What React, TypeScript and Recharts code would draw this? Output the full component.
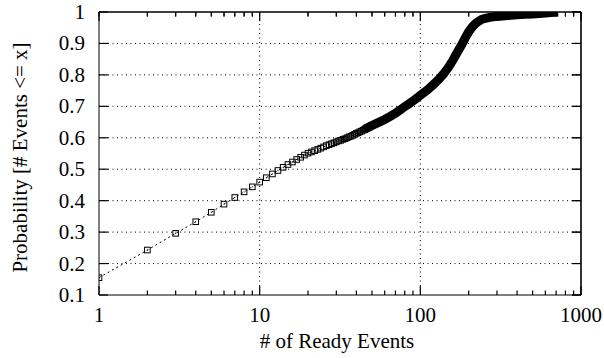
import React from "react";
import { LineChart, Line, XAxis, YAxis, ReferenceLine } from "recharts";

// individual markers (every integer up to 50)
const readyEvents = [
  1, 2, 3, 4, 5, 6, 7, 8, 9, 10, 11, 12, 13, 14, 15, 16, 17, 18, 19, 20, 21, 22, 23, 24, 25,
  26, 27, 28, 29, 30, 31, 32, 33, 34, 35, 36, 37, 38, 39, 40, 41, 42, 43, 44, 45, 46, 47, 48, 49, 50,
];
const probability = [
  0.155, 0.243, 0.296, 0.333, 0.363, 0.389, 0.41, 0.428, 0.444, 0.459, 0.473, 0.485, 0.496, 0.506, 0.515,
  0.523, 0.531, 0.538, 0.545, 0.551, 0.555, 0.559, 0.563, 0.567, 0.571, 0.575, 0.578, 0.581, 0.584, 0.587,
  0.59, 0.592, 0.595, 0.597, 0.6, 0.603, 0.605, 0.608, 0.611, 0.614, 0.616, 0.619, 0.621, 0.624, 0.627,
  0.629, 0.632, 0.634, 0.637, 0.639,
];

// dense part where the markers merge into one thick band
const bandEvents = [
  45, 50, 55, 60, 65, 70, 75, 80, 85, 90, 95, 100, 110, 120, 130, 140, 150, 160, 170, 180, 190, 200,
  210, 220, 230, 240, 250, 270, 300, 350, 400, 450, 500, 550, 600, 650, 720,
];
const bandProbability = [
  0.627, 0.639, 0.649, 0.658, 0.668, 0.678, 0.689, 0.699, 0.708, 0.717, 0.726, 0.735, 0.751, 0.768, 0.786,
  0.804, 0.825, 0.848, 0.872, 0.894, 0.917, 0.937, 0.952, 0.963, 0.97, 0.976, 0.979, 0.983, 0.986, 0.989,
  0.991, 0.993, 0.994, 0.995, 0.997, 0.998, 1.0,
];

const majorXTicks = [1, 10, 100, 1000];
const minorXTicks = [2, 3, 4, 5, 6, 7, 8, 9, 20, 30, 40, 50, 60, 70, 80, 90, 200, 300, 400, 500, 600, 700, 800, 900];
const yTicks = [0.1, 0.2, 0.3, 0.4, 0.5, 0.6, 0.7, 0.8, 0.9, 1];
const xGrid = [10, 100];
const yGrid = [0.2, 0.3, 0.4, 0.5, 0.6, 0.7, 0.8, 0.9];

const pointData = readyEvents.map((x, i) => ({ x, p: probability[i] }));
const bandData = bandEvents.map((x, i) => ({ x, p: bandProbability[i] }));
const allXTicks = [...majorXTicks, ...minorXTicks].sort((a, b) => a - b);

// frame axes (top / right) sit just outside the plot, ticks point inward
const FRAME = 8;
const MARGIN = { top: 12 - FRAME, right: 23 - FRAME, bottom: 0, left: 0 };
const PLOT_TOP = 12;
const PLOT_RIGHT = 604 - 23;
const FONT = "Liberation Serif";
const TICK_FONT = 21;
const MAJOR = 9;
const MINOR = 4.5;

function NoLabel() {
  return <g />;
}

// labels plus inward ticks on the bottom edge (and long ticks on top)
function BottomTick(props: any) {
  const { x, y, payload } = props;
  const v = payload.value;
  const major = majorXTicks.includes(v);
  const len = major ? MAJOR : MINOR;
  const axisY = y - 12;
  return (
    <g>
      <line x1={x} x2={x} y1={axisY} y2={axisY - len} stroke="#000" strokeWidth={1.2} />
      <line x1={x} x2={x} y1={PLOT_TOP} y2={PLOT_TOP + len} stroke="#000" strokeWidth={1.2} />
      {major && (
        <text x={x} y={y + 15} textAnchor="middle" fontSize={TICK_FONT} fontFamily={FONT} fill="#000">
          {v}
        </text>
      )}
    </g>
  );
}

// labels plus inward ticks on the left edge (and the right edge)
function LeftTick(props: any) {
  const { x, y, payload } = props;
  const axisX = x + 14;
  return (
    <g>
      <line x1={axisX} x2={axisX + MAJOR} y1={y} y2={y} stroke="#000" strokeWidth={1.2} />
      <line x1={PLOT_RIGHT} x2={PLOT_RIGHT - MAJOR} y1={y} y2={y} stroke="#000" strokeWidth={1.2} />
      <text x={x} y={y} dy={7} textAnchor="end" fontSize={TICK_FONT} fontFamily={FONT} fill="#000">
        {payload.value}
      </text>
    </g>
  );
}

function Square(props: any) {
  const { cx, cy } = props;
  if (cx == null || cy == null) return null;
  return (
    <g>
      <rect x={cx - 2.8} y={cy - 2.8} width={5.6} height={5.6} fill="none" stroke="#000" strokeWidth={1} />
      <rect x={cx - 0.5} y={cy - 0.5} width={1} height={1} fill="#000" />
    </g>
  );
}

function XTitle(props: any) {
  const vb = props.viewBox || { x: 99, y: 295, width: 482, height: 63 };
  return (
    <text x={vb.x + vb.width / 2 - 3} y={vb.y + 53} textAnchor="middle" fontSize={21} fontFamily={FONT} fill="#000">
      # of Ready Events
    </text>
  );
}

function YTitle(props: any) {
  const vb = props.viewBox || { x: 0, y: 12, width: 99, height: 283 };
  const cx = vb.x + 20;
  const cy = vb.y + vb.height / 2 + 4;
  return (
    <text x={cx} y={cy} dy={7} transform={`rotate(-90, ${cx}, ${cy})`} textAnchor="middle" fontSize={21} fontFamily={FONT} fill="#000">
      Probability [# Events &lt;= x]
    </text>
  );
}

export default function App() {
  return (
    <div style={{ position: "absolute", left: 0, top: 0, width: 604, height: 358, background: "#fff" }}>
      <LineChart width={604} height={358} margin={MARGIN}>
        <XAxis
          xAxisId="b"
          type="number"
          dataKey="x"
          scale="log"
          domain={[1, 1000]}
          allowDataOverflow
          ticks={allXTicks}
          interval={0}
          tick={<BottomTick />}
          tickLine={false}
          tickSize={0}
          tickMargin={12}
          height={63}
          axisLine={{ stroke: "#000" }}
          label={<XTitle />}
        />
        <XAxis
          xAxisId="t"
          orientation="top"
          type="number"
          dataKey="x"
          scale="log"
          domain={[1, 1000]}
          allowDataOverflow
          ticks={allXTicks}
          interval={0}
          tick={<NoLabel />}
          tickLine={{ stroke: "#000" }}
          tickSize={-MINOR}
          height={FRAME}
          axisLine={{ stroke: "#000" }}
        />
        <YAxis
          yAxisId="l"
          type="number"
          domain={[0.1, 1]}
          allowDataOverflow
          ticks={yTicks}
          interval={0}
          tick={<LeftTick />}
          tickLine={false}
          tickSize={0}
          tickMargin={14}
          width={99}
          axisLine={{ stroke: "#000" }}
          label={<YTitle />}
        />
        <YAxis
          yAxisId="r"
          orientation="right"
          type="number"
          domain={[0.1, 1]}
          allowDataOverflow
          ticks={yTicks}
          interval={0}
          tick={<NoLabel />}
          tickLine={{ stroke: "#000" }}
          tickSize={-MAJOR}
          width={FRAME}
          axisLine={{ stroke: "#000" }}
        />
        <ReferenceLine xAxisId="b" yAxisId="l" y={1} stroke="#000" strokeWidth={1.2} />
        <ReferenceLine xAxisId="b" yAxisId="l" x={1000} stroke="#000" strokeWidth={1.2} />
        {xGrid.map((v) => (
          <ReferenceLine key={"gx" + v} xAxisId="b" yAxisId="l" x={v} stroke="#000" strokeDasharray="1 3.5" />
        ))}
        {yGrid.map((v) => (
          <ReferenceLine key={"gy" + v} xAxisId="b" yAxisId="l" y={v} stroke="#000" strokeDasharray="1 3.5" />
        ))}
        <Line
          xAxisId="b"
          yAxisId="r"
          data={bandData}
          dataKey="p"
          type="linear"
          stroke="#000"
          strokeWidth={9}
          dot={false}
          isAnimationActive={false}
        />
        <Line
          xAxisId="t"
          yAxisId="l"
          data={pointData}
          dataKey="p"
          type="linear"
          stroke="#000"
          strokeWidth={1}
          strokeDasharray="2 3"
          dot={<Square />}
          isAnimationActive={false}
        />
      </LineChart>
    </div>
  );
}
